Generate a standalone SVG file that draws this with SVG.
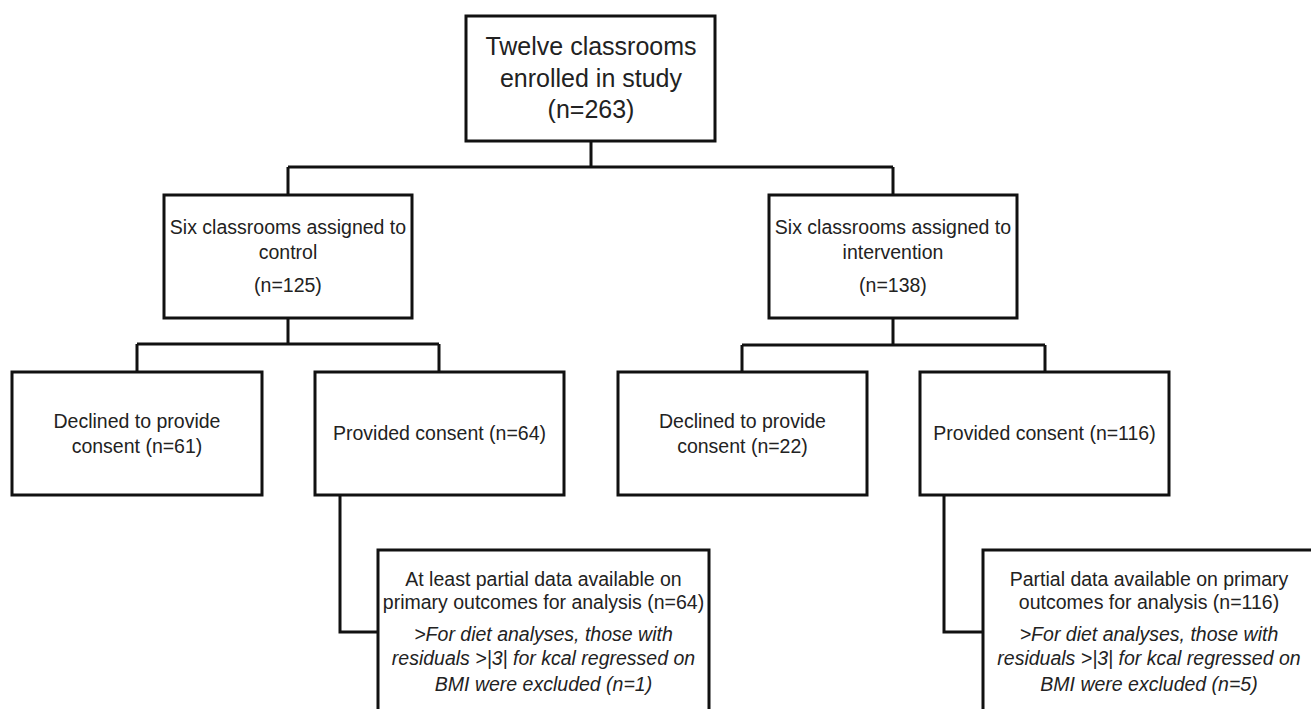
<svg xmlns="http://www.w3.org/2000/svg" width="1311" height="709" viewBox="0 0 1311 709">
<style>
.box{fill:#fff;stroke:#111;stroke-width:3}
.con{fill:none;stroke:#111;stroke-width:3}
text{font-family:"Liberation Sans",Arial,sans-serif;font-size:19.5px;fill:#222;text-anchor:middle}
.big{font-size:25px}
.it{font-style:italic}
</style>
<rect width="1311" height="709" fill="#fff"/>
<g id="connectors">
<path class="con" d="M591,141 V167 M288,167 H893 M288,167 V195 M893,167 V195"/>
<path class="con" d="M288,318 V344 M137,344 H439 M137,344 V372 M439,344 V372"/>
<path class="con" d="M893,318 V345 M742,345 H1045 M742,345 V372 M1045,345 V372"/>
<path class="con" d="M340,495 V632 H378"/>
<path class="con" d="M944,495 V632 H983"/>
</g>
<g id="n-enrolled">
<rect class="box" x="466" y="16" width="249" height="125"/>
<text class="big" x="591" y="55">Twelve classrooms</text>
<text class="big" x="591" y="87">enrolled in study</text>
<text class="big" x="591" y="118">(n=263)</text>
</g>
<g id="n-control">
<rect class="box" x="164" y="195" width="248" height="123"/>
<text x="288" y="234">Six classrooms assigned to</text>
<text x="288" y="259">control</text>
<text x="288" y="292">(n=125)</text>
</g>
<g id="n-intervention">
<rect class="box" x="769" y="195" width="248" height="123"/>
<text x="893" y="234">Six classrooms assigned to</text>
<text x="893" y="259">intervention</text>
<text x="893" y="292">(n=138)</text>
</g>
<g id="n-declined-control">
<rect class="box" x="12" y="372" width="250" height="123"/>
<text x="137" y="428">Declined to provide</text>
<text x="137" y="453">consent (n=61)</text>
</g>
<g id="n-consent-control">
<rect class="box" x="315" y="372" width="249" height="123"/>
<text x="439.5" y="440">Provided consent (n=64)</text>
</g>
<g id="n-declined-intervention">
<rect class="box" x="618" y="372" width="249" height="123"/>
<text x="742.5" y="428">Declined to provide</text>
<text x="742.5" y="453">consent (n=22)</text>
</g>
<g id="n-consent-intervention">
<rect class="box" x="920" y="372" width="249" height="123"/>
<text x="1044.5" y="440">Provided consent (n=116)</text>
</g>
<g id="n-analysis-control">
<rect class="box" x="378" y="550" width="331" height="200"/>
<text x="543.5" y="586">At least partial data available on</text>
<text x="543.5" y="609">primary outcomes for analysis (n=64)</text>
<text class="it" x="543.5" y="641">&gt;For diet analyses, those with</text>
<text class="it" x="543.5" y="665">residuals &gt;|3| for kcal regressed on</text>
<text class="it" x="543.5" y="691">BMI were excluded (n=1)</text>
</g>
<g id="n-analysis-intervention">
<rect class="box" x="983" y="550" width="332" height="200"/>
<text x="1149" y="586">Partial data available on primary</text>
<text x="1149" y="609">outcomes for analysis (n=116)</text>
<text class="it" x="1149" y="641">&gt;For diet analyses, those with</text>
<text class="it" x="1149" y="665">residuals &gt;|3| for kcal regressed on</text>
<text class="it" x="1149" y="691">BMI were excluded (n=5)</text>
</g>
</svg>
